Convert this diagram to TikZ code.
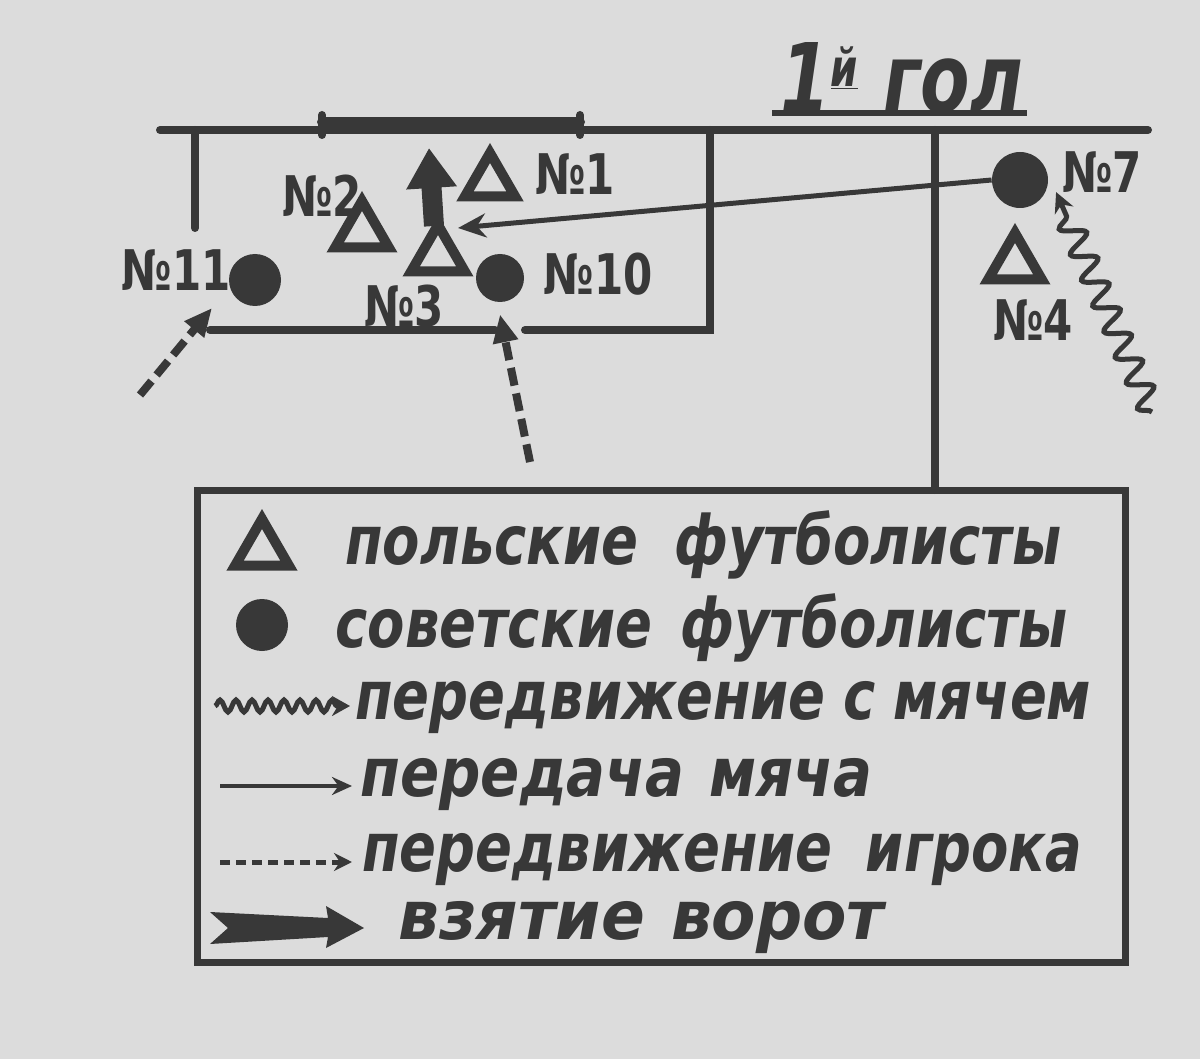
\documentclass[tikz,border=0pt]{standalone}
\usepackage{fontspec}
\setmainfont{DejaVu Sans}
\newfontfamily\hand[FakeStretch=0.8]{DejaVu Sans}
\newfontfamily\handwide[FakeStretch=0.85]{DejaVu Sans}
\newfontfamily\handwider[FakeStretch=0.95]{DejaVu Sans}
\newfontfamily\lblfont[FakeStretch=0.75]{DejaVu Sans}
\usetikzlibrary{arrows.meta,shapes.geometric,decorations.pathmorphing}
\definecolor{ink}{HTML}{383838}
\definecolor{paper}{HTML}{DCDCDC}
\tikzset{
  fieldline/.style={draw=ink, line width=4pt, line cap=round},
  pole/.style={regular polygon, regular polygon sides=3, draw=ink, line width=5pt, minimum size=31pt, inner sep=0pt},
  sov/.style={circle, fill=ink, minimum size=26pt, inner sep=0pt},
  lbl/.style={text=ink, font=\lblfont\bfseries\fontsize{28}{28}\selectfont, inner sep=0pt},
  leg/.style={text=ink, font=\hand\bfseries\itshape\fontsize{34}{34}\selectfont, anchor=west, inner sep=0pt},
  passarrow/.style={draw=ink, line width=2.5pt, -{Stealth[length=14pt,width=12pt]}},
  runarrow/.style={draw=ink, line width=4pt, dash pattern=on 9pt off 4pt, -{Triangle[length=14pt,width=12pt]}},
  wavearrow/.style={draw=ink, line width=2.5pt, decorate, decoration={snake, amplitude=6pt, segment length=14pt, post length=8pt}, -{Stealth[length=10pt,width=10pt]}},
  goalarrow/.style={draw=ink, line width=10pt, -{Triangle[length=20pt,width=24pt]}},
}
\begin{document}
\begin{tikzpicture}[x=0.5pt,y=-0.5pt]
\fill[paper] (0,0) rectangle (1200,1059);
\useasboundingbox (0,0) rectangle (1200,1059);

% title
\node[text=ink, font=\lblfont\bfseries\itshape\fontsize{48}{48}\selectfont, inner sep=0pt] (title) at (902,78) {1\raisebox{0.5ex}{\fontsize{26}{26}\selectfont\underline{й}} гол};
\draw[ink, line width=3pt] (772,113) -- (1027,113);

% field lines
\draw[fieldline] (160,130) -- (1148,130);
\draw[fieldline, line width=5pt] (322,122) -- (580,122);
\draw[fieldline] (322,115) -- (322,135);
\draw[fieldline] (580,115) -- (580,135);
\draw[fieldline] (195,130) -- (195,228);
\draw[fieldline] (710,130) -- (710,330) -- (525,330);
\draw[fieldline] (495,330) -- (210,330);
\draw[fieldline] (935,130) -- (935,490);

% players
\node[pole, minimum size=29pt] (t1) at (490,182) {};
\node[pole] (t2) at (362,232) {};
\node[pole] (t3) at (438,256) {};
\node[pole] (t4) at (1015,264) {};
\node[sov] (c11) at (255,280) {};
\node[sov, minimum size=24pt] (c10) at (500,278) {};
\node[sov, minimum size=28pt] (c7) at (1020,180) {};

% labels
\node[lbl] (l1) at (575,174) {№1};
\node[lbl] (l2) at (322,196) {№2};
\node[lbl] (l3) at (404,306) {№3};
\node[lbl] (l10) at (598,274) {№10};
\node[lbl] (l11) at (176,270) {№11};
\node[lbl] (l7) at (1102,172) {№7};
\node[lbl] (l4) at (1033,320) {№4};

% movements
\coordinate (passend) at (458,228);
\coordinate (goalstart) at (434,226);
\coordinate (goalend) at (429,148);
\coordinate (run10) at (530,462);
\coordinate (run11) at (140,395);
\coordinate (wave7) at (1152,412);
\draw[passarrow] (c7.west) -- (passend);
\draw[goalarrow] (goalstart) -- (goalend);
\draw[runarrow] (run10) -- ([yshift=-6pt]c10.south);
\draw[runarrow] (run11) -- (212,308);
\draw[wavearrow] (wave7) -- ([shift={(8pt,4pt)}]c7.south east);

% legend
\draw[ink, line width=3.5pt] (197,490) rectangle (1125,962);
\node[pole] (ltri) at (262,550) {};
\node[sov] (lcirc) at (262,625) {};
\node[leg] (g1) at (345,545) {\makebox[358pt][s]{польские футболисты}};
\node[leg] (g2) at (335,628) {\makebox[366pt][s]{советские футболисты}};
\node[leg] (g3) at (355,708) {\makebox[368pt][s]{передвижение с мячем}};
\node[leg, font=\handwide\bfseries\itshape\fontsize{34}{34}\selectfont] (g4) at (360,785) {\makebox[256pt][s]{передача мяча}};
\node[leg] (g5) at (362,860) {\makebox[360pt][s]{передвижение игрока}};
\node[leg, font=\handwider\bfseries\itshape\fontsize{34}{34}\selectfont] (g6) at (398,928) {\makebox[243pt][s]{взятие ворот}};
\coordinate (w0) at (215,706);
\coordinate (w1) at (350,706);
\coordinate (p0) at (220,786);
\coordinate (p1) at (352,786);
\coordinate (r0) at (220,862);
\coordinate (r1) at (352,862);
\draw[draw=ink, line width=2.5pt, decorate, decoration={snake, amplitude=3pt, segment length=8pt, post length=6pt}, -{Stealth[length=9pt,width=10pt]}] (w0) -- (w1);
\draw[draw=ink, line width=2pt, -{Stealth[length=10pt,width=9pt]}] (p0) -- (p1);
\draw[draw=ink, line width=2.5pt, dash pattern=on 5pt off 3pt, -{Stealth[length=9pt,width=9pt]}] (r0) -- (r1);
\fill[ink] (210,912) -- (328,918) -- (326,906) -- (364,928) -- (326,948) -- (328,937) -- (210,944) -- (228,928) -- cycle;
\end{tikzpicture}
\end{document}
